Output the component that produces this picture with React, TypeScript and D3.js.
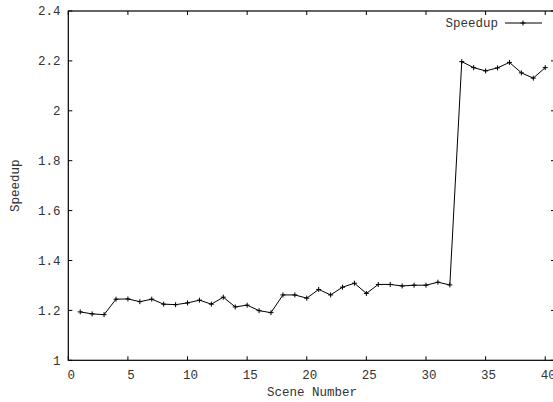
import React from "react";
import * as d3 from "d3";

const scenes = [1,2,3,4,5,6,7,8,9,10,11,12,13,14,15,16,17,18,19,20,21,22,23,24,25,26,27,28,29,30,31,32,33,34,35,36,37,38,39,40];
const speedup = [1.194,1.186,1.183,1.245,1.246,1.235,1.245,1.225,1.223,1.23,1.241,1.225,1.253,1.214,1.221,1.199,1.191,1.262,1.262,1.249,1.284,1.262,1.293,1.309,1.268,1.304,1.304,1.298,1.301,1.301,1.313,1.302,2.197,2.173,2.16,2.172,2.194,2.152,2.131,2.173];
const xTicks = [0,5,10,15,20,25,30,35,40];
const yTicks = [1,1.2,1.4,1.6,1.8,2,2.2,2.4];
const yTickLabels = ["1","1.2","1.4","1.6","1.8","2","2.2","2.4"];

export default function App() {
  const W = 553, H = 402;
  const left = 68.3, right = 555, top = 11, bottom = 360.3;
  const x = d3.scaleLinear().domain([0, 40.82]).range([left, right]);
  const y = d3.scaleLinear().domain([1, 2.4]).range([bottom, top]);
  const line = d3.line<number>().x((_, i) => x(scenes[i])).y(d => y(d));
  const font = "'Liberation Mono', 'DejaVu Sans Mono', monospace";
  const tc = "#333";
  const tl = 4;
  const marker = (cx: number, cy: number, k: string) => (
    <path key={k} d={`M${cx - 2.5},${cy}H${cx + 2.5}M${cx},${cy - 2.5}V${cy + 2.5}`} stroke="#000" strokeWidth={1} />
  );
  return (
    <svg width={W} height={H} style={{ position: "absolute", left: 0, top: 0, background: "#fff" }}>
      <g fontFamily={font} fontSize={12.5} fill={tc}>
        {yTicks.map((t, i) => (
          <g key={"y" + i}>
            <line x1={left} x2={left + tl} y1={y(t)} y2={y(t)} stroke="#000" />
            <line x1={right - tl} x2={right} y1={y(t)} y2={y(t)} stroke="#000" />
            <text x={60.5} y={y(t)} dy="0.35em" textAnchor="end">{yTickLabels[i]}</text>
          </g>
        ))}
        {xTicks.map((t, i) => (
          <g key={"x" + i}>
            <line x1={x(t)} x2={x(t)} y1={bottom} y2={bottom - tl} stroke="#000" />
            <line x1={x(t)} x2={x(t)} y1={top} y2={top + tl} stroke="#000" />
            <text x={x(t) + 3} y={379} textAnchor="middle">{t}</text>
          </g>
        ))}
        <text x={312} y={396} textAnchor="middle">Scene Number</text>
        <text transform={`translate(19,${(top + bottom) / 2}) rotate(-90)`} textAnchor="middle">Speedup</text>
        <text x={498} y={23} dy="0.35em" textAnchor="end">Speedup</text>
      </g>
      <rect x={left} y={top} width={right - left} height={bottom - top} fill="none" stroke="#000" strokeWidth={1.2} />
      <line x1={505} x2={542} y1={23} y2={23} stroke="#000" />
      {marker(523, 23, "lg")}
      <path d={line(speedup) || ""} fill="none" stroke="#000" strokeWidth={1} />
      {speedup.map((v, i) => marker(x(scenes[i]), y(v), "m" + i))}
    </svg>
  );
}
